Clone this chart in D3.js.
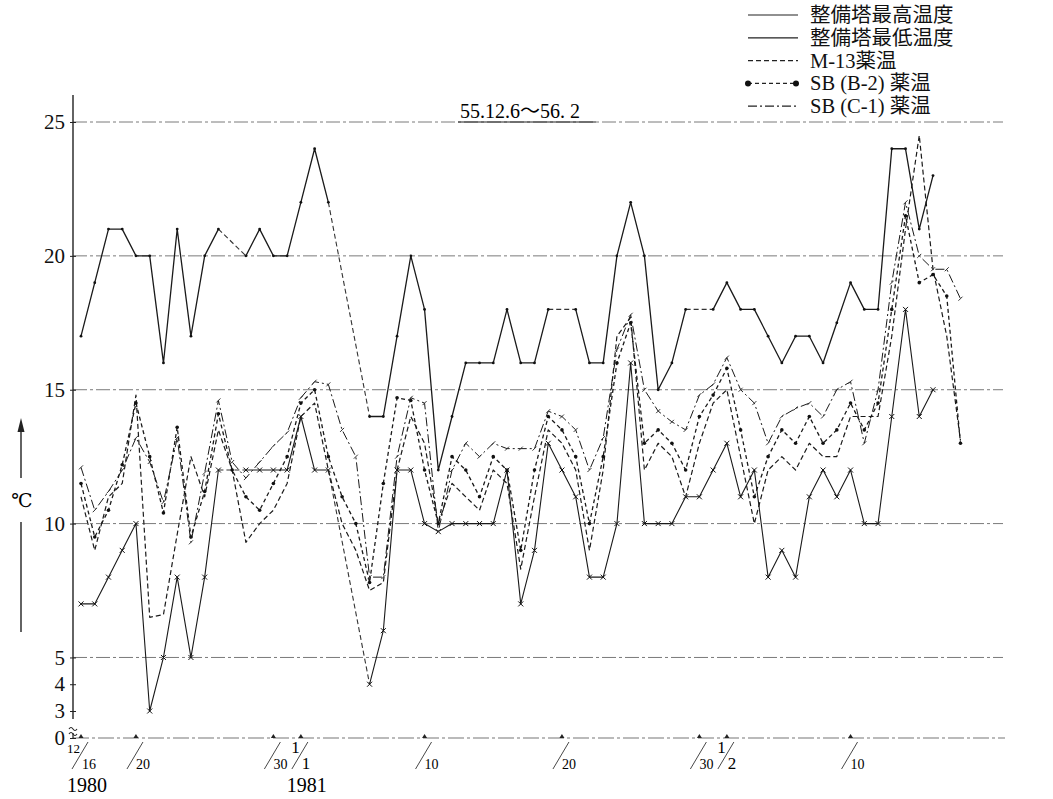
<!DOCTYPE html>
<html><head><meta charset="utf-8">
<script src="https://cdn.jsdelivr.net/npm/d3@7"></script>
<style>body{margin:0;background:#fff} svg{display:block}</style>
</head><body>
<svg id="c" width="1053" height="799"></svg>
<script>
// day index 0 = 1980-12-16
const days = d3.range(0, 65);
const maxTemp = [17,19,21,21,20,20,16,21,17,20, 21,null,20,21,20,20,22,24,22,null, null,14,14,17,20,18,12,14,16,16, 16,18,16,16,18,null,18,16,16,20, 22,20,15,16,18,null,18,19,18,18, 17,16,17,17,16,17.5,19,18,18,24, 24,21,23,null,null];
const minTemp = [7,7,8,9,10,3,5,8,5,8, 12,null,12,12,12,12,14,12,12,null, null,4,6,12,12,10,9.7,10,10,10, 10,12,7,9,13,12,11,8,8,10, 16,10,10,10,11,11,12,13,11,12, 8,9,8,11,12,11,12,10,10,14, 18,14,15,null,null];
const m13 = [11.0,9.0,11.0,11.5,14.8,6.5,6.6,9.6,12.5,11.0, 13.5,12.0,9.3,10.0,10.5,11.5,14.0,14.5,12.0,10.0, 9.0,7.5,7.8,12.0,14.0,13.0,10.0,11.5,11.0,10.5, 12.0,11.5,8.3,11.0,13.5,13.0,12.0,9.0,12.0,17.0, 17.7,12.0,13.0,12.5,11.0,13.0,14.5,15.0,12.5,10.0, 12.0,12.5,12.0,13.0,12.5,12.5,14.0,14.0,14.0,17.0, 21.0,24.5,19.5,17.0,13.1];
const sbB2 = [11.5,9.5,10.5,12.2,14.5,12.5,10.4,13.6,9.5,11.2, 14.1,12.0,11.0,10.5,11.5,12.5,14.5,15.0,12.5,11.0, 10.0,7.8,11.5,14.7,14.6,12.0,10.0,12.5,12.0,11.0, 12.5,12.0,9.0,12.0,14.0,13.5,12.5,10.0,12.5,16.0, 17.5,13.0,13.5,13.0,12.0,14.0,14.8,15.8,13.5,11.0, 12.5,13.5,13.0,14.0,13.0,13.5,14.5,13.5,14.5,18.0, 21.5,19.0,19.3,18.5,13.0];
const sbC1 = [12.1,10.5,11.2,12.0,13.2,12.3,10.8,13.2,9.3,11.9, 14.6,12.3,11.7,12.3,12.9,13.4,14.7,15.3,15.2,13.5, 12.5,8.0,8.0,12.5,14.7,14.5,9.7,12.0,13.0,12.5, 13.0,12.8,12.8,12.8,14.2,14.0,13.5,12.0,13.2,16.5, 17.8,15.0,14.2,13.8,13.5,14.8,15.2,16.2,15.0,14.5, 13.0,14.0,14.3,14.5,14.0,15.0,15.3,13.0,15.0,19.0, 22.0,20.0,19.5,19.5,18.4];

const yTicks = [25,20,15,10,5,4,3,0];
const gridValues = [25,20,15,10,5];
const xTickLabels = [
  {day:0, top:"12", bottom:"16"},
  {day:4, top:"", bottom:"20"},
  {day:14, top:"", bottom:"30"},
  {day:16, top:"1", bottom:"1"},
  {day:25, top:"", bottom:"10"},
  {day:35, top:"", bottom:"20"},
  {day:45, top:"", bottom:"30"},
  {day:47, top:"1", bottom:"2"},
  {day:56, top:"", bottom:"10"}
];
const yearLabels = [{day:0, text:"1980"}, {day:16, text:"1981"}];
const legendLabels = ["整備塔最高温度","整備塔最低温度","M-13薬温","SB (B-2) 薬温","SB (C-1) 薬温"];
const titleText = "55.12.6～56. 2";

const svg = d3.select("#c");
const serif = "'Liberation Serif','DejaVu Serif','Noto Sans CJK JP',serif";
const x = d3.scaleLinear().domain([0, 62]).range([81, 933]);
const y = d3.scaleLinear().domain([0, 3, 25]).range([738, 711, 122]);
const axisX = 73;

// grid lines
svg.append("g").selectAll("line").data(gridValues).join("line")
  .attr("x1", axisX).attr("x2", 1003)
  .attr("y1", d => y(d)).attr("y2", d => y(d))
  .attr("stroke", "#7a7a7a").attr("stroke-width", 1)
  .attr("stroke-dasharray", "14,3,3,3");
// x baseline
svg.append("line").attr("x1", axisX).attr("x2", 1005)
  .attr("y1", y(0)).attr("y2", y(0))
  .attr("stroke", "#777").attr("stroke-width", 1.2).attr("stroke-dasharray", "16,3,3,3");

// y axis
const yAxis = d3.axisLeft(y).tickValues(yTicks).tickSize(4).tickPadding(4).tickFormat(d3.format("d"));
const gy = svg.append("g").attr("transform", `translate(${axisX},0)`).call(yAxis);
gy.select(".domain").remove();
gy.selectAll(".tick line").attr("stroke", "#222").attr("x2", 3).attr("x1", -3);
gy.selectAll(".tick text").attr("font-family", serif).attr("font-size", 21).attr("fill", "#111");
svg.append("line").attr("x1", axisX).attr("x2", axisX).attr("y1", 95).attr("y2", y(3) + 8)
  .attr("stroke", "#222").attr("stroke-width", 1.4);
// axis break mark
const brk = svg.append("g").attr("fill", "none").attr("stroke", "#222").attr("stroke-width", 1.1);
[0, 5].forEach(o => brk.append("path")
  .attr("d", `M${axisX-4},${y(3)+18+o} q2,-3 4,0 t4,0`));
svg.append("line").attr("x1", axisX).attr("x2", axisX).attr("y1", y(3)+22).attr("y2", y(0))
  .attr("stroke", "#222").attr("stroke-width", 1.2);

// ℃ label with arrow
svg.append("text").attr("x", 22).attr("y", 500).attr("text-anchor", "middle")
  .attr("dominant-baseline", "central").attr("font-family", serif).attr("font-size", 19).text("℃");
svg.append("line").attr("x1", 21).attr("x2", 21).attr("y1", 522).attr("y2", 632).attr("stroke", "#222").attr("stroke-width", 1.4);
svg.append("line").attr("x1", 21).attr("x2", 21).attr("y1", 428).attr("y2", 478).attr("stroke", "#222").attr("stroke-width", 1.4);
svg.append("path").attr("d", "M21,418 L17.5,432 L24.5,432 Z").attr("fill", "#222");

// x tick marks & labels
const xt = svg.append("g");
xTickLabels.forEach(t => {
  const cx = x(t.day);
  xt.append("path").attr("d", `M${cx-2.5},${y(0)} L${cx},${y(0)-4} L${cx+2.5},${y(0)} Z`).attr("fill", "#222");
  xt.append("line").attr("x1", cx-9).attr("y1", 769).attr("x2", cx+7).attr("y2", 742)
    .attr("stroke", "#333").attr("stroke-width", 0.9);
  if (t.top) xt.append("text").attr("x", cx - 1).attr("y", 753).attr("text-anchor", "end")
    .attr("font-family", serif).attr("font-size", t.top.length > 1 ? 13 : 17).text(t.top);
  xt.append("text").attr("x", cx + (t.top ? 1 : 0)).attr("y", 769).attr("text-anchor", "start")
    .attr("font-family", serif).attr("font-size", t.top && t.top.length == 1 ? 17 : 14).text(t.bottom);
});
svg.append("g").selectAll("text").data(yearLabels).join("text")
  .attr("x", d => x(d.day) + 6).attr("y", 792).attr("text-anchor", "middle")
  .attr("font-family", serif).attr("font-size", 20).text(d => d.text);

// series
const seriesDefs = [
  {name: legendLabels[0], values: maxTemp, dash: null, width: 1.3, marker: "dot"},
  {name: legendLabels[1], values: minTemp, dash: null, width: 1.1, marker: "cross"},
  {name: legendLabels[2], values: m13, dash: "5,3", width: 1.2, marker: null},
  {name: legendLabels[3], values: sbB2, dash: "4,3", width: 1.3, marker: "bigdot"},
  {name: legendLabels[4], values: sbC1, dash: "9,3,2,3", width: 1.0, marker: "tick"}
];
const line = d3.line().defined(d => d.v != null).x(d => x(d.d)).y(d => y(d.v));
const plot = svg.append("g").attr("fill", "none");
seriesDefs.forEach(s => {
  const pts = days.map((d, i) => ({d, v: s.values[i]}));
  plot.append("path").datum(pts).attr("d", line)
    .attr("stroke", "#1a1a1a").attr("stroke-width", s.width)
    .attr("stroke-dasharray", s.dash).attr("stroke-linejoin", "round");
  // bridge missing days with dashed segments
  const def = pts.filter(p => p.v != null);
  for (let i = 1; i < def.length; i++) {
    if (def[i].d - def[i-1].d > 1) {
      plot.append("path").datum([def[i-1], def[i]]).attr("d", line)
        .attr("stroke", "#333").attr("stroke-width", 1.1).attr("stroke-dasharray", "5,3");
    }
  }
  const mg = plot.append("g");
  def.forEach(p => {
    const px = x(p.d), py = y(p.v);
    if (s.marker === "dot") mg.append("circle").attr("cx", px).attr("cy", py).attr("r", 1.4).attr("fill", "#111");
    if (s.marker === "bigdot") mg.append("circle").attr("cx", px).attr("cy", py).attr("r", 1.8).attr("fill", "#111");
    if (s.marker === "cross") mg.append("path").attr("d", `M${px-2.5},${py-2.5}L${px+2.5},${py+2.5}M${px-2.5},${py+2.5}L${px+2.5},${py-2.5}`)
      .attr("stroke", "#111").attr("stroke-width", 1);
    if (s.marker === "tick") mg.append("path").attr("d", `M${px-2},${py+2}L${px+2},${py-2}`).attr("stroke", "#333").attr("stroke-width", 1);
  });
});

// title
svg.append("text").attr("x", 460).attr("y", 118).attr("font-family", serif).attr("font-size", 20).text(titleText);
svg.append("line").attr("x1", 458).attr("x2", 596).attr("y1", 122).attr("y2", 122).attr("stroke", "#222").attr("stroke-width", 1);

// legend
const lg = svg.append("g");
legendLabels.forEach((t, i) => {
  const cy = 15 + i * 22.8;
  const s = seriesDefs[i];
  lg.append("line").attr("x1", 748).attr("x2", 798).attr("y1", cy).attr("y2", cy)
    .attr("stroke", "#222").attr("stroke-width", 1.2).attr("stroke-dasharray", s.dash);
  if (s.marker === "bigdot") {
    lg.append("circle").attr("cx", 748).attr("cy", cy).attr("r", 3).attr("fill", "#111");
    lg.append("circle").attr("cx", 796).attr("cy", cy).attr("r", 3).attr("fill", "#111");
  }
  lg.append("text").attr("x", 810).attr("y", cy).attr("dominant-baseline", "central")
    .attr("font-family", serif).attr("font-size", 20.5).attr("fill", "#111").text(t);
});
</script>
</body></html>
